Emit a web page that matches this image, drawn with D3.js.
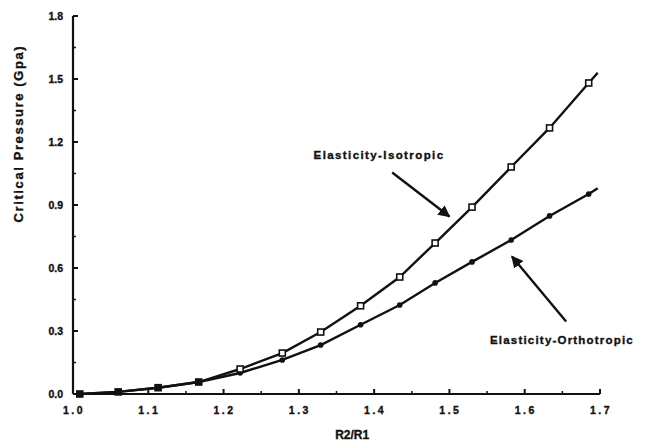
<!DOCTYPE html>
<html>
<head>
<meta charset="utf-8">
<script src="https://cdn.jsdelivr.net/npm/d3@7"></script>
<style>
  body { margin: 0; background: #fff; }
  text { font-family: "Liberation Sans", Arial, sans-serif; font-weight: bold; fill: #111; stroke: #111; stroke-width: 0.35px; }
</style>
</head>
<body>
<div id="main"></div>
<script>
// values
var ratio = [1.009, 1.06, 1.113, 1.167, 1.222, 1.278, 1.329, 1.382, 1.434, 1.481, 1.53, 1.582, 1.633, 1.685, 1.697]
var isotropic = [0.0, 0.01, 0.03, 0.057, 0.119, 0.195, 0.295, 0.42, 0.557, 0.719, 0.89, 1.081, 1.267, 1.481, 1.53]
var orthotropic = [0.0, 0.01, 0.03, 0.057, 0.10, 0.162, 0.233, 0.33, 0.424, 0.529, 0.629, 0.733, 0.848, 0.952, 0.98]
var xTicks = [1.0, 1.1, 1.2, 1.3, 1.4, 1.5, 1.6, 1.7]
var yTicks = [0.0, 0.3, 0.6, 0.9, 1.2, 1.5, 1.8]

var dimensions = {
  width: 647,
  height: 448,
  margin: { top: 16, bottom: 54, right: 47, left: 73 }
}
dimensions.boundedWidth = dimensions.width - dimensions.margin.left - dimensions.margin.right
dimensions.boundedHeight = dimensions.height - dimensions.margin.top - dimensions.margin.bottom

var svg = d3.select("#main").append("svg")
  .attr("width", dimensions.width)
  .attr("height", dimensions.height)

svg.append("defs").append("marker")
  .attr("id", "head")
  .attr("viewBox", "0 0 10 10")
  .attr("refX", 9).attr("refY", 5)
  .attr("markerWidth", 5).attr("markerHeight", 5)
  .attr("markerUnits", "strokeWidth")
  .attr("orient", "auto")
  .append("path").attr("d", "M0,0 L10,5 L0,10 Z").attr("fill", "#111")

var SVG = svg.append("g")
  .attr("transform", "translate(" + dimensions.margin.left + "," + dimensions.margin.top + ")")

var x = d3.scaleLinear().domain([1.0, 1.7]).range([0, dimensions.boundedWidth])
var y = d3.scaleLinear().domain([0, 1.8]).range([dimensions.boundedHeight, 0])

// x axis: inward ticks, minor halfway
var xAxis = SVG.append("g").attr("transform", "translate(0," + dimensions.boundedHeight + ")")
xAxis.append("line").attr("x1", 0).attr("x2", x(1.7))
  .attr("stroke", "#111").attr("stroke-width", 2.2)
xAxis.selectAll(".major").data(xTicks.slice(1)).enter().append("line")
  .attr("x1", d => x(d)).attr("x2", d => x(d)).attr("y1", 0).attr("y2", -5)
  .attr("stroke", "#111").attr("stroke-width", 2)
xAxis.selectAll(".minor").data(xTicks.slice(0, -1)).enter().append("line")
  .attr("x1", d => x(d + 0.05)).attr("x2", d => x(d + 0.05)).attr("y1", 0).attr("y2", -3)
  .attr("stroke", "#111").attr("stroke-width", 1.5)
xAxis.selectAll("text").data(xTicks).enter().append("text")
  .attr("x", d => x(d) + 1).attr("y", 20)
  .attr("text-anchor", "middle")
  .style("font-size", "10.5px").style("letter-spacing", "2.5px")
  .text(d => d.toFixed(1))

// y axis
var yAxis = SVG.append("g")
yAxis.append("line").attr("y1", dimensions.boundedHeight).attr("y2", 0)
  .attr("stroke", "#111").attr("stroke-width", 2.2)
yAxis.selectAll(".major").data(yTicks.slice(1)).enter().append("line")
  .attr("y1", d => y(d)).attr("y2", d => y(d)).attr("x1", 0).attr("x2", 5)
  .attr("stroke", "#111").attr("stroke-width", 2)
yAxis.selectAll(".minor").data(yTicks.slice(0, -1)).enter().append("line")
  .attr("y1", d => y(d + 0.15)).attr("y2", d => y(d + 0.15)).attr("x1", 0).attr("x2", 3)
  .attr("stroke", "#111").attr("stroke-width", 1.5)
yAxis.selectAll("text").data(yTicks).enter().append("text")
  .attr("x", -10).attr("y", d => y(d) + 4)
  .attr("text-anchor", "end")
  .style("font-size", "10.5px")
  .text(d => d.toFixed(1))

SVG.append("text")
  .attr("transform", "translate(-50," + y(1.24) + ") rotate(-90)")
  .attr("text-anchor", "middle")
  .style("font-size", "13px").style("letter-spacing", "1.6px")
  .text("Critical  Pressure  (Gpa)")

SVG.append("text")
  .attr("x", x(1.4) - 22).attr("y", dimensions.boundedHeight + 45)
  .attr("text-anchor", "middle")
  .style("font-size", "12px")
  .text("R2/R1")

var data = ratio.map(function(r, i) { return { r: r, iso: isotropic[i], ortho: orthotropic[i] } })
var marked = data.slice(0, -1)

var line = function(key) {
  return d3.line().x(d => x(d.r)).y(d => y(d[key]))
}

SVG.append("path").datum(data).attr("d", line("ortho"))
  .attr("fill", "none").attr("stroke", "#111").attr("stroke-width", 2.4)
SVG.append("path").datum(data).attr("d", line("iso"))
  .attr("fill", "none").attr("stroke", "#111").attr("stroke-width", 2.4)

SVG.selectAll(".odot").data(marked).enter().append("circle")
  .attr("cx", d => x(d.r)).attr("cy", d => y(d.ortho)).attr("r", 2.8)
  .attr("fill", "#111")

SVG.selectAll(".isq").data(marked).enter().append("rect")
  .attr("x", d => x(d.r) - 3).attr("y", d => y(d.iso) - 3)
  .attr("width", 6).attr("height", 6)
  .attr("fill", d => d.r < 1.2 ? "#111" : "#fff")
  .attr("stroke", "#111").attr("stroke-width", 1.6)

// annotations
SVG.append("text")
  .attr("x", x(1.4065)).attr("y", y(1.119))
  .attr("text-anchor", "middle")
  .style("font-size", "11.5px").style("letter-spacing", "1.4px")
  .text("Elasticity-Isotropic")
SVG.append("line")
  .attr("x1", x(1.424)).attr("y1", y(1.055))
  .attr("x2", x(1.5)).attr("y2", y(0.845))
  .attr("stroke", "#111").attr("stroke-width", 2.4)
  .attr("marker-end", "url(#head)")

SVG.append("text")
  .attr("x", x(1.6495)).attr("y", y(0.238))
  .attr("text-anchor", "middle")
  .style("font-size", "11.5px").style("letter-spacing", "1.2px")
  .text("Elasticity-Orthotropic")
SVG.append("line")
  .attr("x1", x(1.655)).attr("y1", y(0.345))
  .attr("x2", x(1.583)).attr("y2", y(0.655))
  .attr("stroke", "#111").attr("stroke-width", 2.4)
  .attr("marker-end", "url(#head)")
</script>
</body>
</html>
